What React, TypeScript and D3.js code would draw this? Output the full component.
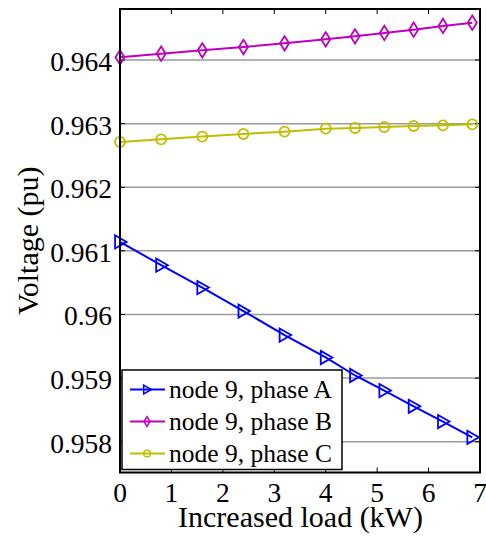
import React from "react";
import * as d3 from "d3";

// Added load at node 9 (kW)
const loadKW = [0, 0.8, 1.6, 2.4, 3.2, 4.0, 4.57, 5.14, 5.71, 6.28, 6.85];

// Node 9 voltage per phase (pu)
const phaseA = [0.961141, 0.960775, 0.960423, 0.960053, 0.959676, 0.959324, 0.959041, 0.958804, 0.958557, 0.958317, 0.958069];
const phaseB = [0.964042, 0.964099, 0.964152, 0.964204, 0.964262, 0.964325, 0.964372, 0.964425, 0.964476, 0.964535, 0.964587];
const phaseC = [0.962712, 0.962753, 0.962796, 0.962838, 0.962874, 0.962921, 0.962932, 0.962948, 0.962964, 0.962973, 0.962989];

const seriesNames = ["node 9, phase A", "node 9, phase B", "node 9, phase C"];
const xTicks = [0, 1, 2, 3, 4, 5, 6, 7];
const yTicks = [0.958, 0.959, 0.96, 0.961, 0.962, 0.963, 0.964];
const yTickLabels = ["0.958", "0.959", "0.96", "0.961", "0.962", "0.963", "0.964"];

const W = 486;
const H = 537;
const M = { left: 120, right: 480, top: 9, bottom: 472.5 };
const FONT = "Liberation Serif";

type Marker = "tri" | "diamond" | "circle";

function markerPath(kind: Marker, cx: number, cy: number, s: number): string {
  if (kind === "tri") {
    const h = s * 0.55;
    return `M${cx - h * 0.75},${cy - h}L${cx + h},${cy}L${cx - h * 0.75},${cy + h}Z`;
  }
  if (kind === "diamond") {
    const h = s * 0.6;
    const w = s * 0.38;
    return `M${cx},${cy - h}L${cx + w},${cy}L${cx},${cy + h}L${cx - w},${cy}Z`;
  }
  const r = s * 0.42;
  return `M${cx + r},${cy}A${r},${r} 0 1 1 ${cx - r},${cy}A${r},${r} 0 1 1 ${cx + r},${cy}Z`;
}

function Label(props: {
  x?: number;
  y?: number;
  size: number;
  anchor?: string;
  transform?: string;
  children: React.ReactNode;
}) {
  return (
    <text
      x={props.x}
      y={props.y}
      transform={props.transform}
      fontFamily={FONT}
      fontSize={props.size}
      textAnchor={props.anchor || "start"}
      fill="#000"
      style={{ fontFamily: FONT, fontSize: `${props.size}px` }}
    >
      {props.children}
    </text>
  );
}

export default function App() {
  const x = d3.scaleLinear().domain([0, 7]).range([M.left, M.right]);
  const y = d3.scaleLinear().domain([0.957516, 0.964802]).range([M.bottom, M.top]);

  const series = [
    { name: seriesNames[0], values: phaseA, color: "#0000ff", marker: "tri" as Marker },
    { name: seriesNames[1], values: phaseB, color: "#bf00bf", marker: "diamond" as Marker },
    { name: seriesNames[2], values: phaseC, color: "#bfbf00", marker: "circle" as Marker },
  ];

  const line = d3
    .line<[number, number]>()
    .x((d) => x(d[0]))
    .y((d) => y(d[1]));

  const tickLen = 5;
  const legend = { x0: 122, y0: 370, x1: 342, y1: 469.5 };
  const legendRows = [389.5, 421.5, 453.5];

  return (
    <svg width={W} height={H} style={{ position: "absolute", left: 0, top: 0 }}>
      <style>{`text { font-family: "Liberation Serif", serif; }`}</style>
      <rect x={0} y={0} width={W} height={H} fill="#fff" />

      {/* horizontal grid */}
      {yTicks.map((t) => (
        <line key={`g${t}`} x1={M.left} x2={M.right} y1={y(t)} y2={y(t)} stroke="#9a9a9a" strokeWidth={1.5} />
      ))}

      {/* ticks on all four sides, pointing inward */}
      {xTicks.map((t) => (
        <g key={`xt${t}`}>
          <line x1={x(t)} x2={x(t)} y1={M.bottom} y2={M.bottom - tickLen} stroke="#000" strokeWidth={1} />
          <line x1={x(t)} x2={x(t)} y1={M.top} y2={M.top + tickLen} stroke="#000" strokeWidth={1} />
        </g>
      ))}
      {yTicks.map((t) => (
        <g key={`yt${t}`}>
          <line x1={M.left} x2={M.left + tickLen} y1={y(t)} y2={y(t)} stroke="#000" strokeWidth={1} />
          <line x1={M.right} x2={M.right - tickLen} y1={y(t)} y2={y(t)} stroke="#000" strokeWidth={1} />
        </g>
      ))}

      {/* series */}
      {series.map((s) => (
        <g key={s.name}>
          <path
            d={line(loadKW.map((v, i) => [v, s.values[i]] as [number, number])) || ""}
            fill="none"
            stroke={s.color}
            strokeWidth={2}
          />
          {loadKW.map((v, i) => (
            <path
              key={i}
              d={markerPath(s.marker, x(v), y(s.values[i]), 12)}
              fill="none"
              stroke={s.color}
              strokeWidth={1.8}
            />
          ))}
        </g>
      ))}

      {/* axes box */}
      <rect
        x={M.left}
        y={M.top}
        width={M.right - M.left}
        height={M.bottom - M.top}
        fill="none"
        stroke="#000"
        strokeWidth={2}
      />

      {/* legend */}
      <rect
        x={legend.x0}
        y={legend.y0}
        width={legend.x1 - legend.x0}
        height={legend.y1 - legend.y0}
        fill="#fff"
        stroke="#000"
        strokeWidth={1.5}
      />
      {series.map((s, i) => (
        <g key={`lg${i}`}>
          <line x1={130} x2={165} y1={legendRows[i]} y2={legendRows[i]} stroke={s.color} strokeWidth={2} />
          <path d={markerPath(s.marker, 147, legendRows[i], 8)} fill="none" stroke={s.color} strokeWidth={1.5} />
          <Label x={169} y={legendRows[i] + 8.5} size={25.5}>
            {s.name}
          </Label>
        </g>
      ))}

      {/* tick labels */}
      {yTicks.map((t, i) => (
        <Label key={`yl${t}`} x={112} y={y(t) + 11} size={27.5} anchor="end">
          {yTickLabels[i]}
        </Label>
      ))}
      {xTicks.map((t) => (
        <Label key={`xl${t}`} x={x(t)} y={502} size={27.5} anchor="middle">
          {t}
        </Label>
      ))}

      {/* axis titles */}
      <Label x={(M.left + M.right) / 2 + 0.5} y={527} size={30} anchor="middle">
        Increased load (kW)
      </Label>
      <Label transform={`translate(38,${(M.top + M.bottom) / 2}) rotate(-90)`} size={30} anchor="middle">
        Voltage (pu)
      </Label>
    </svg>
  );
}
